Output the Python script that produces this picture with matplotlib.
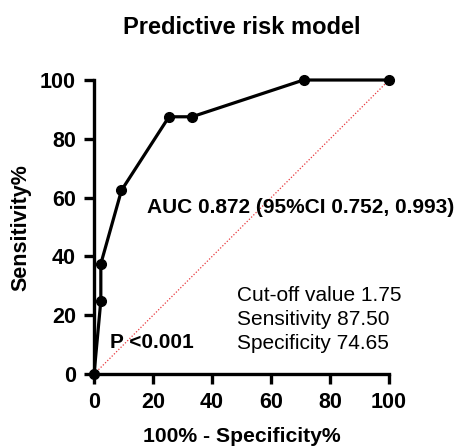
import matplotlib.pyplot as plt

plt.rcParams['font.family'] = ['Liberation Sans', 'DejaVu Sans']

# ROC points
fpr = [0, 2.3, 2.3, 9.3, 25.4, 33.2, 71.0, 100]
tpr = [0, 25.0, 37.5, 62.5, 87.5, 87.5, 100, 100]
ticks = [0, 20, 40, 60, 80, 100]

title = 'Predictive risk model'
auc_text = 'AUC 0.872 (95%CI 0.752, 0.993)'
p_text = 'P <0.001'
cutoff_lines = ['Cut-off value 1.75', 'Sensitivity 87.50', 'Specificity 74.65']

fig = plt.figure(figsize=(4.61, 4.47), dpi=100)
ax = fig.add_axes([0.204, 0.163, 0.640, 0.658])

# reference line
ax.plot([0, 100], [0, 100], color='#e8383d', linestyle=(0, (1, 1.5)), linewidth=0.9, zorder=1)
# ROC curve
ax.plot(fpr, tpr, color='black', linewidth=2.3, marker='o', markersize=7, clip_on=False, zorder=3)

ax.set_xlim(0, 100)
ax.set_ylim(0, 100)
ax.set_xticks(ticks)
ax.set_yticks(ticks)
for s in ['top', 'right']:
    ax.spines[s].set_visible(False)
for s in ['left', 'bottom']:
    ax.spines[s].set_linewidth(2.4)
ax.tick_params(width=2.4, length=7, labelsize=15.5, pad=6)
for lab in ax.get_xticklabels() + ax.get_yticklabels():
    lab.set_fontweight('bold')

ax.set_xlabel('100% - Specificity%', fontsize=15.2, fontweight='bold', labelpad=10)
ax.set_ylabel('Sensitivity%', fontsize=15.5, fontweight='bold', labelpad=6)
fig.suptitle(title, x=0.524, y=0.965, fontsize=17, fontweight='bold')

ax.text(18, 56.8, auc_text, fontsize=15, fontweight='bold', va='center', ha='left', clip_on=False)
ax.text(5.4, 10.6, p_text, fontsize=15, fontweight='bold', va='center', ha='left')
for i, line in enumerate(cutoff_lines):
    ax.text(48.6, 26.9 - 8.2 * i, line, fontsize=15, va='center', ha='left')

fig.savefig('out.png', dpi=100)
